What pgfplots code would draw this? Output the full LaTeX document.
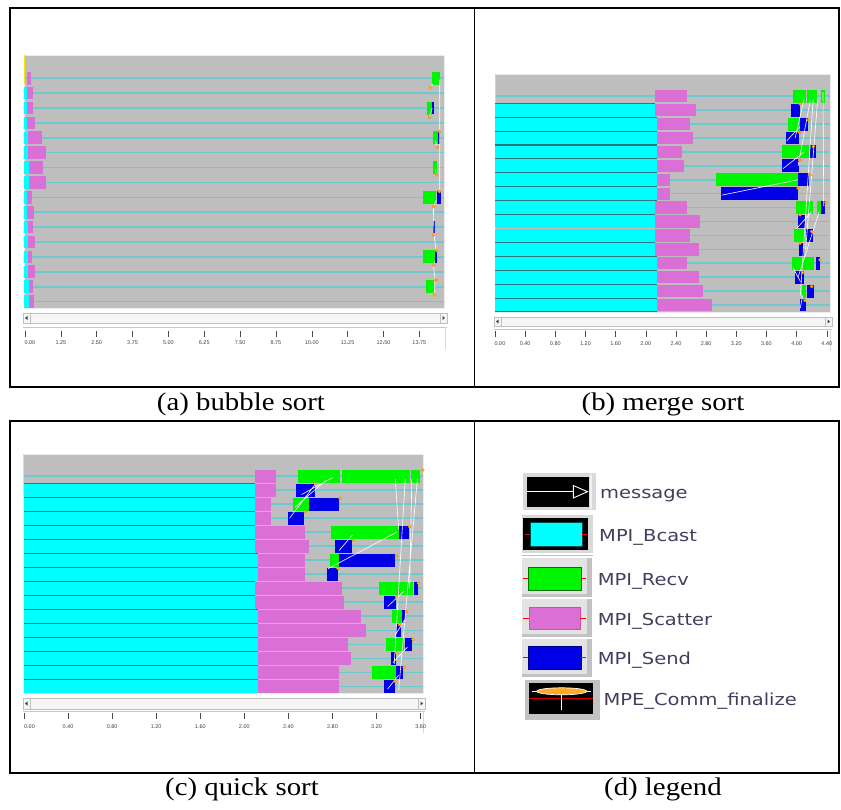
\documentclass[border=0pt]{standalone}
\usepackage{pgfplots}
\pgfplotsset{compat=1.18}
\usepackage{fontspec}
\setmainfont{Liberation Serif}
\newfontfamily\capfont[FakeStretch=1.13]{Liberation Serif}
\newfontfamily\legfont[FakeStretch=1.18]{DejaVu Sans}
\newfontfamily\rulfont{Liberation Sans}

\definecolor{jsgray}{RGB}{190,190,190}
\definecolor{jsline}{RGB}{110,200,205}
\definecolor{jscyan}{RGB}{0,255,255}
\definecolor{jsdark}{RGB}{45,120,125}
\definecolor{jspink}{RGB}{218,112,214}
\definecolor{jsgreen}{RGB}{0,245,0}
\definecolor{jsblue}{RGB}{0,0,230}
\definecolor{jsorange}{RGB}{255,170,40}
\definecolor{legtext}{RGB}{70,60,95}

\pgfplotsset{
 canvas/.style={scale only axis, anchor=north west, y dir=reverse,
   axis background/.style={fill=jsgray},
   axis line style={draw=gray!15, line width=0.8pt},
   xtick=\empty, ytick={0,1,...,15}, yticklabel style={opacity=0, text opacity=0},
   major tick length=0pt,
   ymajorgrids, grid style={jsline, line width=1.6pt},
   unbounded coords=jump, clip=true},
 seg/.style={quiver={u=\thisrow{e}-\thisrow{s}, v=0}},
 ruler/.style={scale only axis, anchor=north west, y dir=reverse, axis lines=none,
   ymin=0, ymax=24, height=24pt, xtick=\empty, ytick=\empty, clip=true},
 rtick/.style={gray!60!black, line width=0.5pt, quiver={u=0, v=6}},
 rlab/.style={draw=none, mark=*, mark size=0.01pt, mark options={draw=none, fill=none},
   nodes near coords, point meta=explicit symbolic,
   every node near coord/.append style={anchor=center, inner sep=0pt,
     font=\rulfont\fontsize{5.5}{6}\selectfont, text=gray!55!black}},
 msg/.style={white, line width=0.6pt},
 fin/.style={only marks, mark=*, mark size=1.5pt,
   mark options={draw=orange, fill=yellow!60!orange, line width=0.4pt}},
}

\begin{document}
\begin{tikzpicture}
\path[use as bounding box] (0pt,0pt) rectangle (841pt,-810pt);

\begin{scope}[x=1pt,y=-1pt]
% frames
\draw[line width=1.8pt] (10,8) rectangle (839,387);
\draw[line width=1.8pt] (474.5,8) -- (474.5,387);
\draw[line width=1.8pt] (10,421) rectangle (839,773);
\draw[line width=1.8pt] (474.5,421) -- (474.5,773);
% captions
\node[anchor=base, inner sep=0pt, font=\capfont\fontsize{25.5}{28}\selectfont] at (241,410.5) {(a) bubble sort};
\node[anchor=base, inner sep=0pt, font=\capfont\fontsize{25.5}{28}\selectfont] at (663,410.5) {(b) merge sort};
\node[anchor=base, inner sep=0pt, font=\capfont\fontsize{25.5}{28}\selectfont] at (242,795) {(c) quick sort};
\node[anchor=base, inner sep=0pt, font=\capfont\fontsize{25.5}{28}\selectfont] at (663,795) {(d) legend};
% scrollbars and ruler lines
\foreach \xa/\xb/\ya/\yb/\yr in {23/447/313/323/327, 494/832/317/326/329, 23/425/698/709/711}{
  \filldraw[fill=gray!8, draw=gray!50, line width=0.6pt] (\xa,\ya) rectangle (\xb,\yb);
  \draw[gray!50, line width=0.5pt] (\xa+7,\ya) -- (\xa+7,\yb) (\xb-7,\ya) -- (\xb-7,\yb);
  \fill[black!75] (\xa+2,{(\ya+\yb)/2}) -- (\xa+4.5,{(\ya+\yb)/2-2}) -- (\xa+4.5,{(\ya+\yb)/2+2}) -- cycle;
  \fill[black!75] (\xb-2,{(\ya+\yb)/2}) -- (\xb-4.5,{(\ya+\yb)/2-2}) -- (\xb-4.5,{(\ya+\yb)/2+2}) -- cycle;
  \draw[gray!45, line width=0.8pt] (\xa,\yr) -- (\xb,\yr);
  \draw[gray!30, line width=0.6pt] (\xb-2,\yr) -- (\xb-2,\yr+22);
}
% legend (d)
\fill[gray!30] (523.3,473.3) rectangle (596,510);
\fill[gray!12] (590,474) rectangle (592,509);
\fill[black] (526.7,477.3) rectangle (589.3,506.7);
\draw[white, line width=0.8pt] (527,491.7) -- (575,491.7);
\draw[white, line width=0.9pt, fill=black] (573.3,485.5) -- (587.5,491.7) -- (573.3,498) -- cycle;
\node[anchor=base west, inner sep=0pt, font=\legfont\fontsize{16.5}{18}\selectfont, text=legtext] at (600,498.3) {message};

\fill[gray!30] (521.7,515) rectangle (593.3,553.3);
\fill[black] (523.3,517.7) rectangle (588.3,550);
\filldraw[fill=jscyan, draw=teal!60!black, line width=0.5pt] (530,522.7) rectangle (582.3,546);
\draw[red, line width=0.8pt] (525,534.3) -- (530,534.3) (582.3,534.3) -- (587,534.3);
\draw[gray!50, line width=0.6pt] (521.7,555.5) -- (593.3,555.5);
\node[anchor=base west, inner sep=0pt, font=\legfont\fontsize{16.5}{18}\selectfont, text=legtext] at (599,541.7) {MPI\_Bcast};

\fill[gray!48] (521.7,558.3) rectangle (591.7,596.7);
\fill[gray!22] (521.7,558.3) rectangle (587,593.5);
\filldraw[fill=jsgreen, draw=green!45!black, line width=0.4pt] (528.3,566.7) rectangle (580.7,590);
\draw[red, line width=0.8pt] (523.3,578.3) -- (528.3,578.3) (580.7,578.3) -- (585.7,578.3);
\node[anchor=base west, inner sep=0pt, font=\legfont\fontsize{16.5}{18}\selectfont, text=legtext] at (597.7,585) {MPI\_Recv};

\fill[gray!48] (521.7,599.3) rectangle (591.7,636.7);
\fill[gray!22] (521.7,599.3) rectangle (587,633.5);
\filldraw[fill=jspink, draw=magenta!50!jspink, line width=0.4pt] (529.3,606.7) rectangle (580,629.3);
\draw[red, line width=0.8pt] (523.3,618.2) -- (529.3,618.2) (580,618.2) -- (585.7,618.2);
\node[anchor=base west, inner sep=0pt, font=\legfont\fontsize{16.5}{18}\selectfont, text=legtext] at (597.7,625) {MPI\_Scatter};

\fill[gray!48] (521.7,639.3) rectangle (591.7,677.3);
\fill[gray!22] (521.7,639.3) rectangle (587,674);
\filldraw[fill=jsblue, draw=blue!50!black, line width=0.4pt] (528.3,646) rectangle (580.7,669.3);
\draw[red, line width=0.8pt] (523.3,657.7) -- (528.3,657.7) (580.7,657.7) -- (585.7,657.7);
\node[anchor=base west, inner sep=0pt, font=\legfont\fontsize{16.5}{18}\selectfont, text=legtext] at (597.7,664) {MPI\_Send};

\fill[gray!48] (525,680) rectangle (600,720);
\fill[black] (529.3,683.3) rectangle (593.3,714);
\draw[red!85!black, line width=0.8pt] (529.3,698.3) -- (593.3,698.3);
\draw[white, line width=1.2pt] (561.7,692) -- (561.7,710);
\draw[white, line width=1.4pt] (532,691.3) -- (591,691.3);
\filldraw[fill=jsorange, draw=white, line width=0.7pt] (561.7,691.3) ellipse (25 and 3.5);
\node[anchor=base west, inner sep=0pt, font=\legfont\fontsize{16.5}{18}\selectfont, text=legtext] at (603.3,705) {MPE\_Comm\_finalize};
\end{scope}

% ================= (a) bubble sort =================
\begin{axis}[canvas, at={(24pt,-55pt)}, width=420.3pt, height=253.3pt,
  xmin=-0.035, xmax=14.62, ymin=-1.56, ymax=15.45]
\addplot[yellow!85!orange, line width=0.8pt] coordinates {(-0.02,-1.56) (-0.02,0.4)};
\addplot[jscyan, line width=12.5pt, seg] table[x=s,y=r] {
s e r
-0.04 0.06 1
-0.04 0.06 2
-0.04 0.08 3
-0.04 0.12 4
-0.04 0.12 5
-0.04 0.15 6
-0.04 0.15 7
-0.04 0.06 8
-0.04 0.08 9
-0.04 0.12 10
-0.04 0.12 11
-0.04 0.09 12
-0.04 0.09 13
-0.04 0.14 14
-0.04 0.14 15
};
\addplot[jspink, line width=12.7pt, seg] table[x=s,y=r] {
s e r
0.06 0.21 0
0.06 0.29 1
0.06 0.29 2
0.08 0.35 3
0.12 0.58 4
0.12 0.73 5
0.15 0.62 6
0.15 0.73 7
0.06 0.23 8
0.08 0.31 9
0.12 0.27 10
0.12 0.35 11
0.09 0.23 12
0.09 0.35 13
0.14 0.27 14
0.14 0.33 15
};
\addplot[jsgreen, line width=13pt, seg] table[x=s,y=r] {
s e r
14.20 14.47 0
14.00 14.18 2
14.24 14.41 4
14.24 14.35 6
13.87 14.33 8
13.87 14.30 12
13.98 14.27 14
};
\addplot[jsblue, line width=12.5pt, seg] table[x=s,y=r] {
s e r
14.18 14.27 2
14.41 14.47 4
14.37 14.49 8
14.24 14.31 10
14.30 14.36 12
};
\addplot[msg] table {
x y
14.22 0.40
14.12 0.62
nan nan
14.46 0.10
14.46 7.60
nan nan
14.10 2.60
14.20 2.00
nan nan
14.38 4.60
14.30 4.20
nan nan
14.35 6.50
14.30 6.10
nan nan
14.33 8.20
14.24 8.62
14.26 10.50
14.34 11.60
nan nan
14.28 12.30
14.24 12.54
14.30 13.55
14.27 14.55
};
\addplot[fin] table {
x y
14.14 0.60
14.10 2.62
14.45 3.58
14.38 4.64
14.35 6.49
14.45 7.61
14.24 8.62
14.24 10.52
14.35 11.58
14.24 12.54
14.33 13.55
14.27 14.55
};
\end{axis}
\begin{axis}[ruler, at={(24pt,-327pt)}, width=420.3pt, xmin=-0.035, xmax=14.62]
\addplot[rtick] table[x=t, y expr=4] {
t
0
1.25
2.5
3.75
5
6.25
7.5
8.75
10
11.25
12.5
13.75
};
\addplot[rlab] table[x=x, y expr=16, meta=lab] {
x lab
0.17 0.00
1.25 1.25
2.5 2.50
3.75 3.75
5 5.00
6.25 6.25
7.5 7.50
8.75 8.75
10 10.00
11.25 11.25
12.5 12.50
13.75 13.75
};
\end{axis}

% ================= (b) merge sort =================
\begin{axis}[canvas, at={(495pt,-74pt)}, width=335pt, height=238pt,
  xmin=0, xmax=4.443, ymin=-1.6, ymax=15.5]
\addplot[yellow!85!orange, line width=0.8pt] coordinates {(0.005,-1.6) (0.005,1.5)};
\addplot[jsdark, line width=13.9pt, seg] table[x=s,y=r] {
s e r
0 2.12 1
0 2.15 2
0 2.15 3
0 2.15 4
0 2.15 5
0 2.15 6
0 2.15 7
0 2.12 8
0 2.12 9
0 2.12 10
0 2.12 11
0 2.15 12
0 2.15 13
0 2.15 14
0 2.15 15
};
\addplot[jscyan, line width=12.8pt, seg] table[x=s,y=r] {
s e r
0 2.12 1
0 2.15 2
0 2.15 3
0 2.15 4
0 2.15 5
0 2.15 6
0 2.15 7
0 2.12 8
0 2.12 9
0 2.12 10
0 2.12 11
0 2.15 12
0 2.15 13
0 2.15 14
0 2.15 15
};
\addplot[jspink, line width=12.3pt, seg] table[x=s,y=r] {
s e r
2.12 2.54 0
2.12 2.66 1
2.15 2.58 2
2.15 2.63 3
2.15 2.48 4
2.15 2.51 5
2.15 2.32 6
2.15 2.32 7
2.12 2.54 8
2.12 2.72 9
2.12 2.58 10
2.12 2.71 11
2.15 2.55 12
2.15 2.70 13
2.15 2.76 14
2.15 2.88 15
};
\addplot[jsgreen, line width=12.9pt, seg] table[x=s,y=r] {
s e r
3.95 4.04 0
4.05 4.13 0
4.14 4.27 0
4.33 4.38 0
3.89 4.04 2
3.81 4.17 4
2.93 4.02 6
3.99 4.22 8
4.27 4.32 8
3.96 4.11 10
3.94 4.23 12
4.07 4.13 14
};
\addplot[jsblue, line width=12.9pt, seg] table[x=s,y=r] {
s e r
3.93 4.04 1
4.04 4.15 2
3.86 4.03 3
4.18 4.26 4
3.81 4.03 5
4.02 4.17 6
3.00 4.02 7
4.33 4.38 8
4.02 4.11 9
4.12 4.22 10
4.03 4.10 11
4.26 4.31 12
3.98 4.10 13
4.14 4.23 14
4.04 4.12 15
};
\addplot[msg] table {
x y
4.35 -0.3
4.36 7.9
nan nan
4.22 0.2
4.05 14.3
nan nan
4.10 0.2
3.98 3.0
nan nan
4.18 0.3
4.02 5.0
nan nan
4.28 0.2
4.12 11.0
nan nan
3.87 3.2
4.04 2.2
nan nan
3.82 5.2
4.10 4.0
nan nan
3.01 7.1
4.02 6.0
nan nan
4.20 8.3
4.00 9.5
nan nan
4.30 8.3
4.02 13.0
nan nan
3.95 12.3
4.05 13.3
nan nan
4.08 14.3
4.05 15.2
};
\addplot[fin] table {
x y
4.045 0.55
4.16 1.70
4.04 2.61
4.22 3.62
4.04 4.57
4.18 5.65
4.02 6.60
4.39 7.64
4.045 8.52
4.20 9.72
4.045 10.55
4.31 11.75
4.08 12.66
4.20 13.67
4.11 14.67
};
\end{axis}
\begin{axis}[ruler, at={(495pt,-329pt)}, width=335pt, xmin=0, xmax=4.443]
\addplot[rtick] table[x=t, y expr=2] {
t
0
0.4
0.8
1.2
1.6
2.0
2.4
2.8
3.2
3.6
4.0
4.4
};
\addplot[rlab] table[x=x, y expr=15, meta=lab] {
x lab
0.066 0.00
0.4 0.40
0.8 0.80
1.2 1.20
1.6 1.60
2.0 2.00
2.4 2.40
2.8 2.80
3.2 3.20
3.6 3.60
4.0 4.00
4.4 4.40
};
\end{axis}

% ================= (c) quick sort =================
\begin{axis}[canvas, at={(23.3pt,-454.3pt)}, width=400pt, height=239pt,
  xmin=-0.006, xmax=3.624, ymin=-1.57, ymax=15.5]
\addplot[yellow!85!orange, line width=0.8pt] coordinates {(-0.002,-1.57) (-0.002,1.5)};
\addplot[jsdark, line width=14pt, seg] table[x=s,y=r] {
s e r
0 2.10 1
0 2.10 2
0 2.10 3
0 2.10 4
0 2.10 5
0 2.12 6
0 2.12 7
0 2.10 8
0 2.10 9
0 2.12 10
0 2.12 11
0 2.12 12
0 2.12 13
0 2.12 14
0 2.12 15
};
\addplot[jscyan, line width=12.9pt, seg] table[x=s,y=r] {
s e r
0 2.10 1
0 2.10 2
0 2.10 3
0 2.10 4
0 2.10 5
0 2.12 6
0 2.12 7
0 2.10 8
0 2.10 9
0 2.12 10
0 2.12 11
0 2.12 12
0 2.12 13
0 2.12 14
0 2.12 15
};
\addplot[jspink, line width=12.8pt, seg] table[x=s,y=r] {
s e r
2.10 2.29 0
2.10 2.29 1
2.10 2.24 2
2.10 2.24 3
2.10 2.55 4
2.10 2.59 5
2.12 2.55 6
2.12 2.55 7
2.10 2.89 8
2.10 2.90 9
2.12 3.06 10
2.12 3.10 11
2.12 2.94 12
2.12 2.97 13
2.12 2.86 14
2.12 2.86 15
};
\addplot[jsgreen, line width=13.2pt, seg] table[x=s,y=r] {
s e r
2.49 2.87 0
2.89 3.50 0
3.51 3.59 0
2.44 2.59 2
2.79 3.40 4
2.78 2.86 6
3.22 3.53 8
3.34 3.43 10
3.29 3.45 12
3.16 3.38 14
};
\addplot[jsblue, line width=13.2pt, seg] table[x=s,y=r] {
s e r
2.47 2.64 1
2.59 2.86 2
2.40 2.54 3
3.40 3.49 4
2.82 2.98 5
2.86 3.37 6
2.75 2.85 7
3.54 3.58 8
3.27 3.38 9
3.43 3.46 10
3.38 3.42 11
3.46 3.52 12
3.33 3.38 13
3.38 3.44 14
3.27 3.37 15
};
\addplot[msg] table {
x y
2.41 3.0
2.65 0.5
nan nan
2.46 2.2
2.74 0.3
nan nan
2.52 1.3
2.80 0.1
nan nan
2.76 6.6
3.38 4.0
nan nan
2.86 5.3
2.98 4.2
nan nan
3.37 0.2
3.40 3.8
nan nan
3.46 0.2
3.36 13.4
nan nan
3.52 0.2
3.50 8.0
nan nan
3.57 0.2
3.40 15.3
nan nan
3.30 9.3
3.45 8.2
nan nan
3.38 11.2
3.46 10.2
nan nan
3.35 13.3
3.48 12.2
nan nan
3.30 15.2
3.40 14.2
};
\addplot[fin] table {
x y
2.64 0.50
2.55 2.53
2.87 1.57
3.50 3.60
2.99 4.55
3.38 5.70
2.85 6.57
3.58 7.64
3.38 8.60
3.47 9.67
3.41 10.60
3.53 11.65
3.38 12.60
3.45 13.64
3.37 14.67
3.62 -0.45
};
\end{axis}
\begin{axis}[ruler, at={(23.3pt,-711pt)}, width=400pt, xmin=-0.006, xmax=3.624]
\addplot[rtick] table[x=t, y expr=2] {
t
0
0.4
0.8
1.2
1.6
2.0
2.4
2.8
3.2
3.6
};
\addplot[rlab] table[x=x, y expr=16, meta=lab] {
x lab
0.05 0.00
0.4 0.40
0.8 0.80
1.2 1.20
1.6 1.60
2.0 2.00
2.4 2.40
2.8 2.80
3.2 3.20
3.6 3.60
};
\end{axis}
\end{tikzpicture}
\end{document}
